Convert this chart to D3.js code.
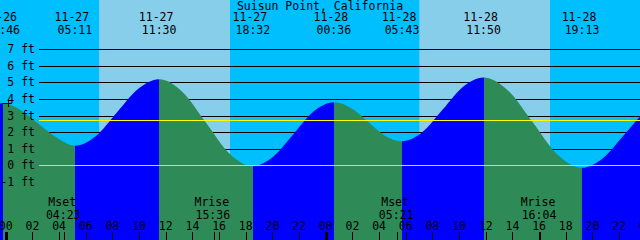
<!DOCTYPE html>
<html>
<head>
<meta charset="utf-8">
<script src="https://cdn.jsdelivr.net/npm/d3@7"></script>
<style>
  body { margin: 0; background: #fff; }
  svg text { font-family: "DejaVu Sans Mono", monospace; font-size: 11.5px; fill: #000; }
</style>
</head>
<body>
<svg id="chart" width="640" height="240"></svg>
<script>
// station + data
const title = "Suisun Point, California";

// tide curve samples (time, feet)
const tideTimes = ["11-26 22:20", "11-26 23:46", "11-27 01:07", "11-27 02:28", "11-27 03:50",
  "11-27 05:11", "11-27 06:46", "11-27 08:20", "11-27 09:55", "11-27 11:30",
  "11-27 13:15", "11-27 15:01", "11-27 16:46", "11-27 18:32", "11-27 20:03",
  "11-27 21:34", "11-27 23:05", "11-28 00:36", "11-28 01:53", "11-28 03:10",
  "11-28 04:26", "11-28 05:43", "11-28 07:15", "11-28 08:47", "11-28 10:18",
  "11-28 11:50", "11-28 13:41", "11-28 15:32", "11-28 17:22", "11-28 19:13",
  "11-28 20:47", "11-28 22:22", "11-28 23:56", "11-29 01:30"];
const tideFeet = [3.45, 3.74, 3.33, 2.50, 1.66,
  1.18, 1.77, 3.19, 4.60, 5.19,
  4.43, 2.57, 0.72, -0.05, 0.52,
  1.88, 3.24, 3.80, 3.46, 2.63,
  1.79, 1.45, 2.01, 3.38, 4.74,
  5.30, 4.50, 2.58, 0.65, -0.15,
  0.43, 1.83, 3.22, 3.80];

// high / low tide events (labels along the top)
const eventTimes = ["11-26 23:46", "11-27 05:11", "11-27 11:30", "11-27 18:32",
  "11-28 00:36", "11-28 05:43", "11-28 11:50", "11-28 19:13"];
const eventKind = ["H", "L", "H", "L", "H", "L", "H", "L"];

// sunrise / sunset
const sunrises = ["11-27 07:00", "11-28 07:01"];
const sunsets = ["11-27 16:49", "11-28 16:49"];

// moon events (labels along the bottom)
const moonTimes = ["11-27 04:23", "11-27 15:36", "11-28 05:21", "11-28 16:04"];
const moonNames = ["Mset", "Mrise", "Mset", "Mrise"];

const feetTicks = [-1, 0, 1, 2, 3, 4, 5, 6, 7];
const meanLevel = 2.72;

const W = 640, H = 240;
const parse = d3.utcParse("%m-%d %H:%M");
const t0 = parse("11-26 23:34");
const t1 = d3.utcHour.offset(t0, 48);

const x = d3.scaleUtc().domain([t0, t1]).range([0, W]);
const y = d3.scaleLinear().domain([-1, 7]).range([181.9, 49.3]);

const svg = d3.select("#chart");

// night background
svg.append("rect").attr("width", W).attr("height", H).attr("fill", "#00bfff");

// daylight bands
svg.append("g").selectAll("rect")
  .data(sunrises.map((s, i) => [parse(s), parse(sunsets[i])]))
  .join("rect")
  .attr("x", d => x(d[0])).attr("width", d => x(d[1]) - x(d[0]))
  .attr("y", 0).attr("height", H)
  .attr("fill", "#87ceeb");

// depth grid lines (under the water)
svg.append("g").selectAll("line")
  .data(feetTicks.filter(f => f != 0))
  .join("line")
  .attr("x1", 39).attr("x2", W)
  .attr("y1", d => Math.round(y(d)) + 0.5).attr("y2", d => Math.round(y(d)) + 0.5)
  .attr("stroke", "#000").attr("shape-rendering", "crispEdges");

// water
const tide = tideTimes.map((s, i) => ({t: parse(s), v: tideFeet[i]}));
const area = d3.area()
  .x(d => x(d.t)).y0(H).y1(d => y(d.v))
  .curve(d3.curveMonotoneX);

svg.append("clipPath").attr("id", "water")
  .append("path").attr("d", area(tide));

// flood (rising) = blue, ebb (falling) = green, switching at each extreme
const ev = eventTimes.map(parse);
const bounds = [t0, ...ev, t1];
const spans = [];
for (let i = 0; i < bounds.length - 1; i++) {
  // span ends at a high -> rising
  let rising = i < ev.length ? eventKind[i] == "H" : eventKind[ev.length - 1] == "L";
  spans.push({a: bounds[i], b: bounds[i + 1], rising: rising});
}
svg.append("g").attr("clip-path", "url(#water)")
  .selectAll("rect").data(spans).join("rect")
  .attr("x", d => x(d.a)).attr("width", d => x(d.b) - x(d.a))
  .attr("y", 0).attr("height", H)
  .attr("fill", d => d.rising ? "#0000ff" : "#2e8b57")
  .attr("shape-rendering", "crispEdges");

// datum line and mean level
svg.append("line").attr("x1", 39).attr("x2", W)
  .attr("y1", Math.round(y(0)) + 0.5).attr("y2", Math.round(y(0)) + 0.5)
  .attr("stroke", "#a6dcef").attr("shape-rendering", "crispEdges");
svg.append("line").attr("x1", 39).attr("x2", W)
  .attr("y1", Math.round(y(meanLevel)) + 0.5).attr("y2", Math.round(y(meanLevel)) + 0.5)
  .attr("stroke", "#ffff00").attr("shape-rendering", "crispEdges");

// feet labels
svg.append("g").selectAll("text")
  .data(feetTicks).join("text")
  .attr("x", 35).attr("y", d => y(d) + 4)
  .attr("text-anchor", "end")
  .text(d => d + " ft");

// little cross at the left edge
svg.append("path").attr("d", "M2,103.5H12M8.5,100V107")
  .attr("stroke", "#000").attr("shape-rendering", "crispEdges");

// title
svg.append("text").attr("x", W / 2).attr("y", 9.5)
  .attr("text-anchor", "middle").text(title);

// tide event labels
const fmtDate = d3.utcFormat("%m-%d"), fmtTime = d3.utcFormat("%H:%M");
const evg = svg.append("g").selectAll("g").data(ev).join("g");
evg.append("text").attr("x", d => x(d) - 3).attr("y", 20.5)
  .attr("text-anchor", "middle").text(d => fmtDate(d));
evg.append("text").attr("x", d => x(d)).attr("y", 33.5)
  .attr("text-anchor", "middle").text(d => fmtTime(d));

// moon labels
const moon = moonTimes.map((s, i) => ({t: parse(s), name: moonNames[i]}));
const mg = svg.append("g").selectAll("g").data(moon).join("g");
mg.append("text").attr("x", d => x(d.t) - 2).attr("y", 206)
  .attr("text-anchor", "middle").text(d => d.name);
mg.append("text").attr("x", d => x(d.t) - 1).attr("y", 218.5)
  .attr("text-anchor", "middle").text(d => fmtTime(d.t));
mg.append("line")
  .attr("x1", d => Math.round(x(d.t)) + 0.5).attr("x2", d => Math.round(x(d.t)) + 0.5)
  .attr("y1", 232).attr("y2", H)
  .attr("stroke", "#000").attr("shape-rendering", "crispEdges");

// hour axis along the bottom
const hours = d3.utcHour.every(2).range(parse("11-27 00:00"), d3.utcHour.offset(t1, 2));
const ax = svg.append("g");
ax.selectAll("text").data(hours).join("text")
  .attr("x", d => x(d)).attr("y", 230)
  .attr("text-anchor", "middle")
  .text(d3.utcFormat("%H"));
ax.selectAll("line").data(hours).join("line")
  .attr("x1", d => Math.round(x(d)) + 0.5).attr("x2", d => Math.round(x(d)) + 0.5)
  .attr("y1", 232).attr("y2", H)
  .attr("stroke", "#000")
  .attr("stroke-width", d => d.getUTCHours() == 0 ? 3 : 1)
  .attr("shape-rendering", "crispEdges");
</script>
</body>
</html>
